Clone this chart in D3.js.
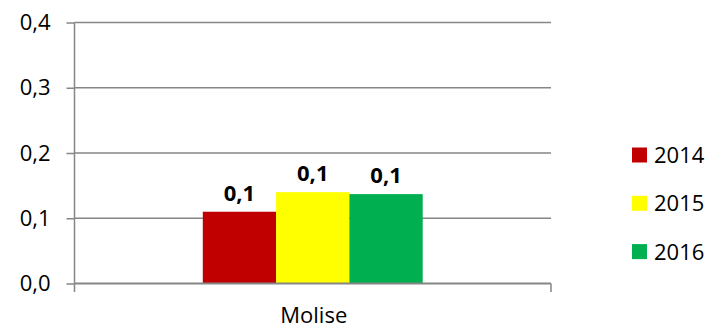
<!DOCTYPE html>
<html>
<head>
<meta charset="utf-8">
<script src="https://cdn.jsdelivr.net/npm/d3@7"></script>
<style>
  html, body { margin: 0; padding: 0; background: #fff; }
  svg { display: block; font-family: "Open Sans", sans-serif; }
</style>
</head>
<body>
<svg id="chart" width="709" height="330"></svg>
<script>
const categories = ["Molise"];
const years = ["2014", "2015", "2016"];
const values2014 = [0.11];
const values2015 = [0.14];
const values2016 = [0.137];
const dataLabels = ["0,1", "0,1", "0,1"];
const yTicks = [0, 0.1, 0.2, 0.3, 0.4];
const colors = ["#C00000", "#FFFF00", "#00B050"];

const seriesValues = [values2014, values2015, values2016];

const svg = d3.select("#chart");
const margin = { left: 74.5, right: 158, top: 22.5, bottom: 46.5 };
const W = 709, H = 330;
const plotLeft = margin.left, plotRight = W - margin.right;
const plotTop = margin.top, plotBottom = H - margin.bottom;

const y = d3.scaleLinear().domain([0, 0.4]).range([plotBottom, plotTop]);
const x0 = d3.scaleBand().domain(categories).range([plotLeft, plotRight]).padding(0);
const x1 = d3.scaleBand().domain(years).range([0, x0.bandwidth()]).paddingInner(0).paddingOuter(1.75);

const fmt = d => d3.format(".1f")(d).replace(".", ",");
const gridColor = "#868686";

// gridlines
svg.append("g").selectAll("line").data(yTicks.filter(t => t > 0)).join("line")
  .attr("x1", plotLeft).attr("x2", plotRight)
  .attr("y1", d => y(d)).attr("y2", d => y(d))
  .attr("stroke", gridColor).attr("stroke-width", 1.5);

// bars
categories.forEach((c, ci) => {
  const g = svg.append("g").attr("transform", `translate(${x0(c)},0)`);
  years.forEach((yr, si) => {
    const v = seriesValues[si][ci];
    g.append("rect")
      .attr("x", x1(yr)).attr("width", x1.bandwidth())
      .attr("y", y(v)).attr("height", y(0) - y(v))
      .attr("fill", colors[si]);
    g.append("text")
      .attr("x", x1(yr) + x1.bandwidth() / 2)
      .attr("y", y(v) - 11)
      .attr("text-anchor", "middle")
      .attr("font-size", 22).attr("font-weight", "bold").attr("fill", "#000")
      .text(dataLabels[si]);
  });
});

// y axis
const yAxis = d3.axisLeft(y).tickValues(yTicks).tickFormat(fmt).tickSize(8).tickPadding(16);
const ya = svg.append("g").attr("transform", `translate(${plotLeft},0)`).call(yAxis);
ya.select(".domain").remove();
ya.selectAll(".tick line").attr("stroke", gridColor).attr("stroke-width", 1.5);
ya.selectAll(".tick text").attr("font-size", 22).attr("font-family", "Open Sans").attr("fill", "#000");
svg.append("line").attr("x1", plotLeft).attr("x2", plotLeft)
  .attr("y1", plotTop).attr("y2", plotBottom + 8.5)
  .attr("stroke", gridColor).attr("stroke-width", 1.5);

// x axis
svg.append("line").attr("x1", plotLeft).attr("x2", plotRight)
  .attr("y1", plotBottom).attr("y2", plotBottom)
  .attr("stroke", gridColor).attr("stroke-width", 2);
svg.append("line").attr("x1", plotRight).attr("x2", plotRight)
  .attr("y1", plotBottom).attr("y2", plotBottom + 8.5)
  .attr("stroke", gridColor).attr("stroke-width", 1.5);
svg.append("g").selectAll("text").data(categories).join("text")
  .attr("x", d => x0(d) + x0.bandwidth() / 2 + 1)
  .attr("y", 323)
  .attr("text-anchor", "middle").attr("font-size", 22).attr("fill", "#000")
  .text(d => d);

// legend
const legend = svg.append("g").attr("transform", "translate(632,155)");
years.forEach((yr, i) => {
  const lg = legend.append("g").attr("transform", `translate(0,${i * 48.3})`);
  lg.append("rect").attr("x", 0).attr("y", -7.5).attr("width", 15).attr("height", 15).attr("fill", colors[i]);
  lg.append("text").attr("x", 22).attr("y", 0).attr("dy", "0.36em")
    .attr("font-size", 22).attr("fill", "#000").text(yr);
});
</script>
</body>
</html>
